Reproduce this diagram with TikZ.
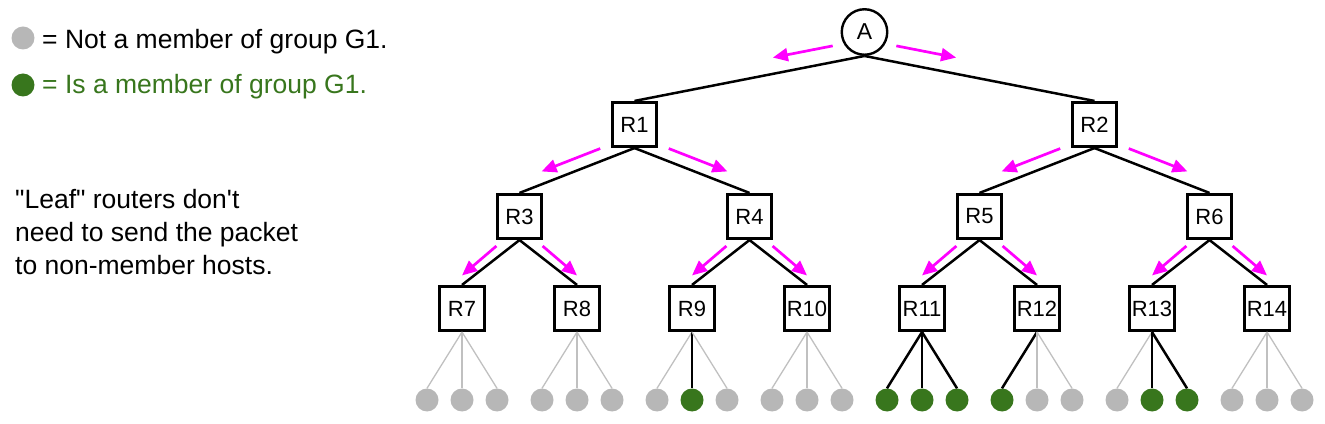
\documentclass[tikz,border=0pt]{standalone}
\usepackage{fontspec}
\setmainfont{Liberation Sans}[Ligatures=TeXOff]
\usetikzlibrary{arrows.meta,calc}
\definecolor{mgray}{HTML}{B7B7B7}
\definecolor{lgray}{HTML}{C0C0C0}
\definecolor{mgreen}{HTML}{38761D}
\definecolor{mmag}{HTML}{FF00FF}
\newcommand{\mcastarrow}[6]{%
  \draw[marrow] ($(#1.south)!#3!(#2.north)!#5!#6:(#2.north)$) -- ($(#1.south)!#4!(#2.north)!#5!#6:(#2.north)$);}
\begin{document}
\begin{tikzpicture}[x=1pt,y=1pt,
  router/.style={draw, line width=2.6pt, minimum size=44.5pt, inner sep=0pt, font=\fontsize{22}{26}\selectfont},
  src/.style={draw, circle, line width=2.4pt, minimum size=45.5pt, inner sep=0pt, font=\fontsize{23}{27}\selectfont},
  tree/.style={line width=2.5pt},
  leaf0/.style={circle, fill=mgray, minimum size=23pt, inner sep=0pt},
  leaf1/.style={circle, fill=mgreen, minimum size=23pt, inner sep=0pt},
  edge0/.style={draw=lgray, line width=1.3pt},
  edge1/.style={draw=black, line width=2.5pt},
  marrow/.style={draw=mmag, line width=2.7pt, -{Triangle[length=15pt,width=13pt]}},
  txt/.style={anchor=base west, inner sep=0pt, font=\fontsize{26.5}{33}\selectfont}
]
\useasboundingbox (0,0) rectangle (1325,423);
% legend
\node[leaf0] (lg1) at (23,385) {};
\node[leaf1] (lg2) at (23,338) {};
\node[txt] (leg1) at (42,374) {= Not a member of group G1.};
\node[txt, text=mgreen] (leg2) at (42,329) {= Is a member of group G1.};
\node[txt] (n1) at (15,214) {"Leaf" routers don't};
\node[txt] (n2) at (15,181) {need to send the packet};
\node[txt] (n3) at (15,148) {to non-member hosts.};
% tree nodes
\node[src] (A) at (864.5,391) {A};
\node[router] (R1) at (634.5,298.5) {R1};
\node[router] (R2) at (1094.5,298.5) {R2};
\node[router] (R3) at (519.5,206.5) {R3};
\node[router] (R4) at (749.5,206.5) {R4};
\node[router] (R5) at (979.5,206.5) {R5};
\node[router] (R6) at (1209.5,206.5) {R6};
\foreach \i/\x in {7/462,8/577,9/692,10/807,11/922,12/1037,13/1152,14/1267}
  \node[router] (R\i) at (\x,114.5) {R\i};
% tree edges
\draw[tree] (A.south) -- (R1.north);
\draw[tree] (A.south) -- (R2.north);
\foreach \p/\l/\r in {1/3/4,2/5/6,3/7/8,4/9/10,5/11/12,6/13/14}{
  \draw[tree] (R\p.south) -- (R\l.north);
  \draw[tree] (R\p.south) -- (R\r.north);
}
% leaves
\coordinate (leafrow) at (0,23);
\foreach \r/\k/\dx/\m in {7/1/-35/0,7/2/0/0,7/3/35/0,
  8/1/-35/0,8/2/0/0,8/3/35/0,
  9/1/-35/0,9/2/0/1,9/3/35/0,
  10/1/-35/0,10/2/0/0,10/3/35/0,
  11/1/-35/1,11/2/0/1,11/3/35/1,
  12/1/-35/1,12/2/0/0,12/3/35/0,
  13/1/-35/0,13/2/0/1,13/3/35/1,
  14/1/-35/0,14/2/0/0,14/3/35/0}{
  \node[leaf\m] (L\r-\k) at ($(R\r.center |- leafrow)+(\dx pt,0)$) {};
  \draw[edge\m] (R\r.south) -- (L\r-\k.north);
}
% forwarding arrows
\mcastarrow{A}{R1}{0.125}{0.385}{16pt}{-90}
\mcastarrow{A}{R2}{0.125}{0.385}{16pt}{90}
\foreach \p/\l/\r in {1/3/4,2/5/6}{
  \mcastarrow{R\p}{R\l}{0.26}{0.77}{12pt}{-90}
  \mcastarrow{R\p}{R\r}{0.26}{0.77}{12pt}{90}
}
\foreach \p/\l/\r in {3/7/8,4/9/10,5/11/12,6/13/14}{
  \mcastarrow{R\p}{R\l}{0.3}{1.0}{9.5pt}{-90}
  \mcastarrow{R\p}{R\r}{0.3}{1.0}{9.5pt}{90}
}
\end{tikzpicture}
\end{document}
